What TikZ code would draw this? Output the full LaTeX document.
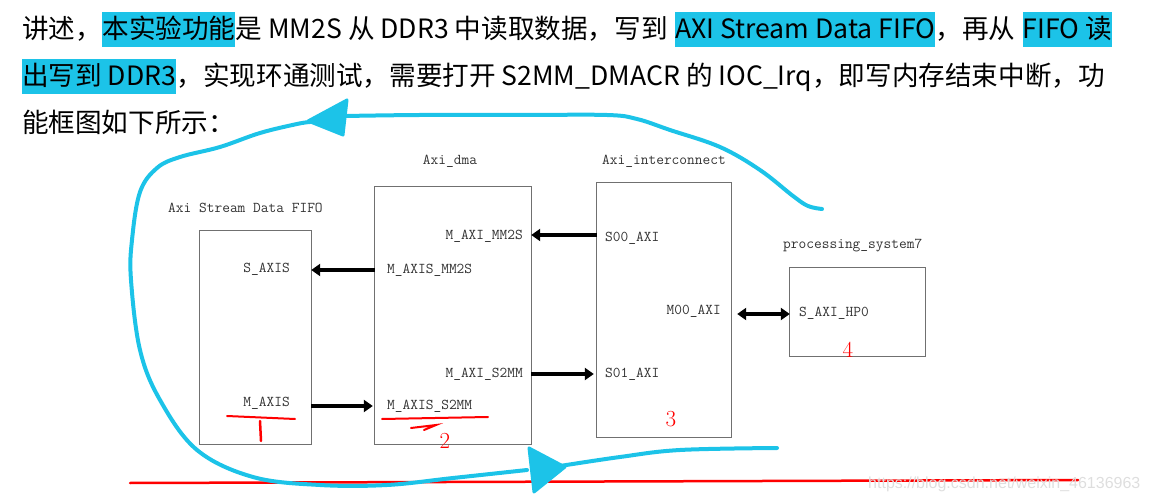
\documentclass[tikz,border=0pt]{standalone}
\usepackage{fontspec}
\newfontfamily\cjk{Noto Sans CJK SC}
\newfontfamily\wmfont{Liberation Sans}
\setmonofont{Latin Modern Mono}
\usetikzlibrary{arrows.meta}
\definecolor{hlc}{HTML}{1CC3E8}
\definecolor{loopc}{HTML}{1CC3E8}
\definecolor{boxc}{HTML}{707070}
\definecolor{lblc}{HTML}{333333}
\definecolor{redc}{HTML}{FF0000}
\tikzset{
  txt/.style={inner sep=0pt, font=\cjk\fontsize{26.6}{30}\selectfont, text height=27pt, text depth=8pt, anchor=base west},
  hl/.style={txt, fill=hlc},
  blk/.style={draw=boxc, line width=1.2pt, fill=none},
  lbl/.style={inner sep=0pt, font=\ttfamily\fontsize{15}{18}\selectfont, text=lblc},
  arr/.style={line width=3.5pt, -{Triangle[length=9pt,width=12pt]}},
  darr/.style={line width=3.5pt, {Triangle[length=9pt,width=12pt]}-{Triangle[length=9pt,width=12pt]}},
  redline/.style={draw=redc, line width=2pt, line cap=round},
  rednum/.style={inner sep=0pt, text=redc, font=\rmfamily\fontsize{23}{26}\selectfont},
  loopline/.style={draw=loopc, line width=4pt, line cap=round, line join=round},
  loophead/.style={fill=loopc, draw=loopc, line width=3pt, line join=round},
}
\begin{document}
\begin{tikzpicture}[x=1pt,y=-1pt]
\useasboundingbox (0,0) rectangle (1151,502);
% --- text lines ---
\node[txt] (a1) at (22,39) {讲述，};
\node[hl]  (a2) at (a1.base east) {本实验功能};
\node[txt] (a3) at (a2.base east) {是 MM2S 从 DDR3 中读取数据，写到};
\node[hl]  (a4) at ([xshift=7pt]a3.base east) {AXI Stream Data FIFO};
\node[txt] (a5) at (a4.base east) {，再从};
\node[hl]  (a6) at ([xshift=7pt]a5.base east) {FIFO 读};
\node[hl]  (b1) at (22,86) {出写到 DDR3};
\node[txt] (b2) at (b1.base east) {，实现环通测试，需要打开 S2MM\_DMACR 的 IOC\_Irq，即写内存结束中断，功};
\node[txt] (c1) at (22,133) {能框图如下所示：};
% --- boxes ---
\node[inner sep=0pt, minimum width=111pt, minimum height=213pt] (fifo) at (255.5,337.5) {};
\node[inner sep=0pt, minimum width=156pt, minimum height=257pt] (dma) at (453,315.5) {};
\node[inner sep=0pt, minimum width=134pt, minimum height=254pt] (ic) at (664,310) {};
\node[inner sep=0pt, minimum width=135pt, minimum height=88pt] (ps) at (857.5,312) {};
\draw[blk] (fifo.north west) rectangle (fifo.south east);
\draw[blk] (dma.north west) rectangle (dma.south east);
\draw[blk] (ic.north west) rectangle (ic.south east);
\draw[blk] (ps.north west) rectangle (ps.south east);
% titles
\node[lbl, anchor=west] (tfifo) at (168,208) {Axi Stream Data FIFO};
\node[lbl] (tdma) at (450,161) {Axi\_dma};
\node[lbl, anchor=west] (tic) at (602,161) {Axi\_interconnect};
\node[lbl, anchor=west] (tps) at (783,246) {processing\_system7};
% ports
\node[lbl, anchor=east] (saxis) at (290,269) {S\_AXIS};
\node[lbl, anchor=east] (maxis) at (290,403) {M\_AXIS};
\node[lbl, anchor=east] (mm2s) at (523,236) {M\_AXI\_MM2S};
\node[lbl, anchor=west] (smm2s) at (387,270) {M\_AXIS\_MM2S};
\node[lbl, anchor=east] (s2mm) at (523,374) {M\_AXI\_S2MM};
\node[lbl, anchor=west] (ss2mm) at (387,406) {M\_AXIS\_S2MM};
\node[lbl, anchor=west] (s00) at (605,238) {S00\_AXI};
\node[lbl, anchor=west] (s01) at (605,374) {S01\_AXI};
\node[lbl, anchor=east] (m00) at (721,311) {M00\_AXI};
\node[lbl, anchor=west] (hp0) at (799,313) {S\_AXI\_HP0};
% arrows
\coordinate (y1) at (0,270);
\coordinate (y2) at (0,406);
\coordinate (y3) at (0,235);
\coordinate (y4) at (0,374);
\coordinate (y5) at (0,314);
\draw[arr] (dma.west |- y1) -- (fifo.east |- y1);
\draw[arr] (fifo.east |- y2) -- ([xshift=-2pt]dma.west |- y2);
\draw[arr] (ic.west |- y3) -- (dma.east |- y3);
\draw[arr] (dma.east |- y4) -- ([xshift=-3pt]ic.west |- y4);
\draw[darr] ([xshift=6pt]ic.east |- y5) -- (ps.west |- y5);
% red annotations
\draw[redline, line width=2.5pt] (130,483) -- (1078,480);
\draw[redline] (227,416) -- (295,419);
\draw[redline, line width=2.5pt] (260,421) -- (261,441);
\draw[redline] (382,419) -- (488,417);
\draw[redline] (411,428) -- (436,425) -- (424,430);
\node[rednum] (n2) at (445,441) {2};
\node[rednum] (n3) at (671,419) {3};
\node[rednum] (n4) at (848,350) {4};
% watermark
\node[inner sep=0pt, anchor=west, text=black!13, font=\wmfont\fontsize{16}{18}\selectfont] (wm) at (868,484) {https://blog.csdn.net/weixin\_46136963};
% cyan loop
\draw[loopline] plot[smooth, tension=0.6] coordinates {(822,209) (808,206) (793,196) (760,170) (720,147) (670,130) (637,119) (607,115) (520,115) (420,115) (345,116)};
\draw[loopline] plot[smooth, tension=0.6] coordinates {(310,122) (297,124) (260,133) (220,147) (180,157) (157,168) (140,192) (132,240) (131,280) (140,350) (160,400) (197,450) (253,477) (320,485) (387,485) (453,478) (527,470)};
\draw[loopline] plot[smooth, tension=0.6] coordinates {(560,466) (620,457) (680,450) (777,448)};
\filldraw[loophead] (347,100) -- (343,135) -- (308,121) -- cycle;
\filldraw[loophead] (529,448) -- (534,492) -- (565,467) -- cycle;
\end{tikzpicture}
\end{document}
